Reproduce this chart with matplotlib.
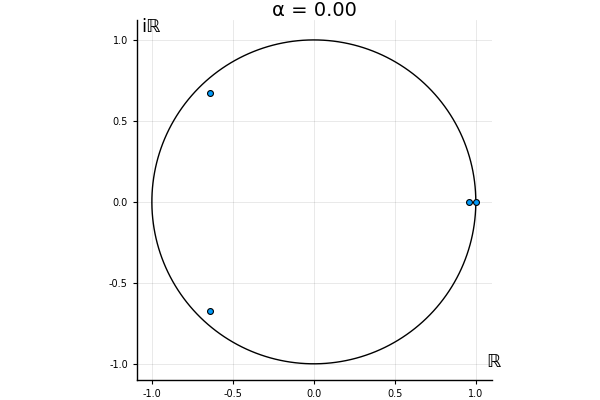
import numpy as np
import matplotlib
matplotlib.use("Agg")
import matplotlib.pyplot as plt

# Data: eigenvalue locations in the complex plane
re_vals = [-0.642, -0.642, 0.957, 1.0]
im_vals = [0.673, -0.673, 0.0, 0.0]
title = "α = 0.00"
xticks = [-1.0, -0.5, 0.0, 0.5, 1.0]
yticks = [-1.0, -0.5, 0.0, 0.5, 1.0]

fig = plt.figure(figsize=(6, 4), dpi=100)
ax = fig.add_axes([0.228, 0.05, 0.592, 0.90])

theta = np.linspace(0, 2 * np.pi, 400)
ax.plot(np.cos(theta), np.sin(theta), color="black", lw=1.0, zorder=2)
ax.scatter(re_vals, im_vals, s=18, color="#009AFA", edgecolors="black",
           linewidths=0.8, zorder=3)

ax.set_xlim(-1.093, 1.1)
ax.set_ylim(-1.1, 1.123)
ax.set_xticks(xticks)
ax.set_yticks(yticks)
ax.set_xticklabels([f"{t:.1f}" for t in xticks])
ax.set_yticklabels([f"{t:.1f}" for t in yticks])
ax.tick_params(labelsize=7, direction="out", length=3, width=0.8, color="black")
ax.grid(True, color="black", alpha=0.1, lw=0.6)
ax.set_axisbelow(True)
for s in ["top", "right"]:
    ax.spines[s].set_visible(False)
for s in ["left", "bottom"]:
    ax.spines[s].set_linewidth(1.0)

ax.set_title(title, fontsize=14, pad=2)
ax.text(0.985, 0.05, "ℝ", transform=ax.transAxes, fontsize=13,
        ha="left", va="center")
ax.text(0.012, 1.005, "iℝ", transform=ax.transAxes, fontsize=13,
        ha="left", va="top")

fig.savefig("out.png", dpi=100)
